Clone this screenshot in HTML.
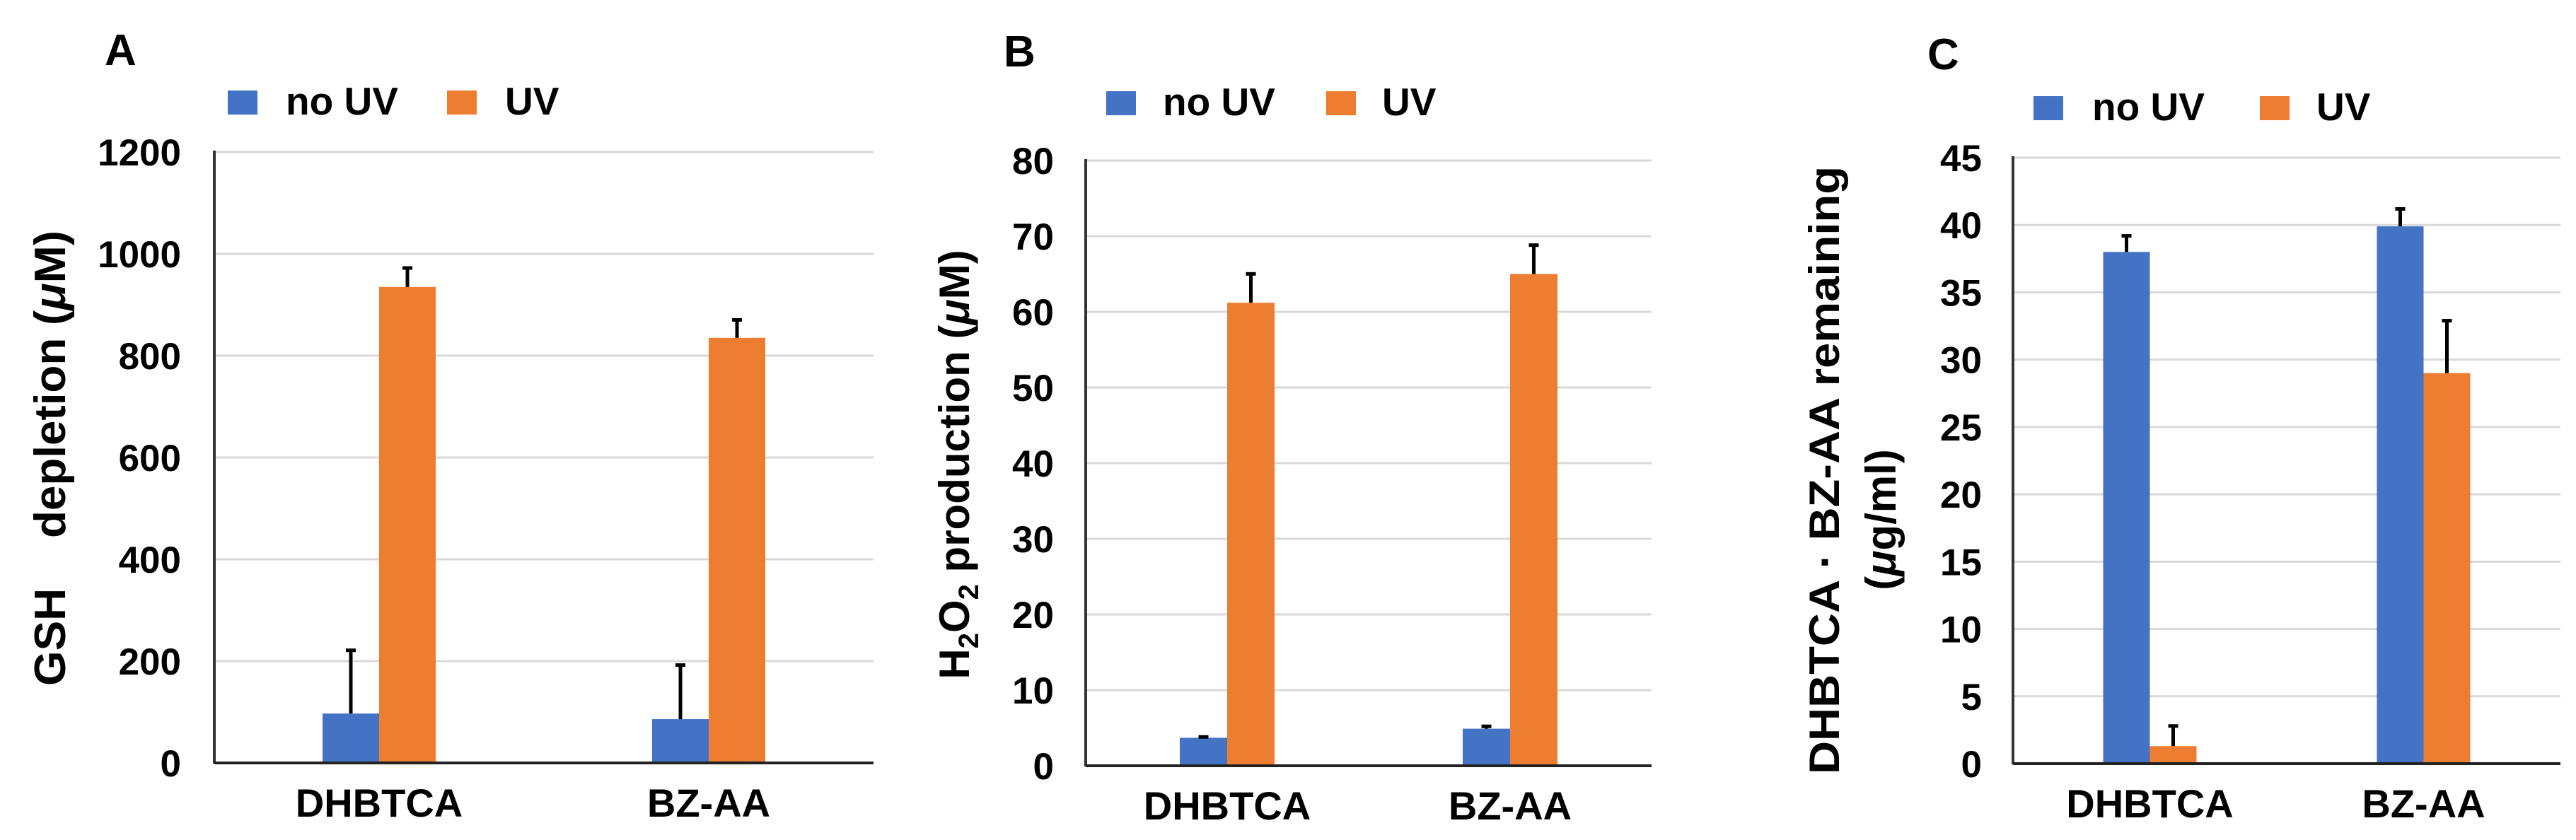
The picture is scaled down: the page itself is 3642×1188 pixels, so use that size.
<!DOCTYPE html>
<html><head><meta charset="utf-8"><style>
html,body{margin:0;padding:0;background:#fff}
svg{display:block}
text{font-family:"Liberation Sans",Arial,sans-serif;font-weight:bold;fill:#000}
</style></head><body>
<svg id="fig" width="3642" height="1188" viewBox="0 0 3642 1188"></svg>
<script>
const categories = ["DHBTCA", "BZ-AA"];
const seriesNames = ["no UV", "UV"];
const aNoUV = [97, 86];
const aNoUVErr = [127, 109];
const aUV = [935, 835];
const aUVErr = [40, 38];
const aTicks = [0, 200, 400, 600, 800, 1000, 1200];
const bNoUV = [3.7, 4.9];
const bNoUVErr = [0.3, 0.5];
const bUV = [61.2, 65];
const bUVErr = [4, 4];
const bTicks = [0, 10, 20, 30, 40, 50, 60, 70, 80];
const cNoUV = [38, 39.9];
const cNoUVErr = [1.3, 1.4];
const cUV = [1.3, 29];
const cUVErr = [1.6, 4];
const cTicks = [0, 5, 10, 15, 20, 25, 30, 35, 40, 45];

const NS = "http://www.w3.org/2000/svg";
const svg = document.getElementById("fig");
function mk(tag, attrs, parent, txt) {
  const e = document.createElementNS(NS, tag);
  for (const k in attrs) e.setAttribute(k, attrs[k]);
  if (txt !== undefined) e.textContent = txt;
  (parent || svg).appendChild(e);
  return e;
}
const BLUE = "#4472c4", ORANGE = "#ed7d31";

function panel(cfg) {
  const g = mk("g", {});
  
  
  const max = cfg.ticks[cfg.ticks.length - 1];
  const y = v => cfg.y0 - (v / max) * (cfg.y0 - cfg.yTop);
  const catW = (cfg.x1 - cfg.x0) / categories.length;
  const cx = i => cfg.x0 + catW * (i + 0.5);
  cfg.ticks.forEach(t => {
    if (t !== 0) {
      const gl = mk("line", {x1: cfg.x0, x2: cfg.x1, y1: y(t), y2: y(t), stroke: "#d9d9d9", "stroke-width": 3}, g);
      
      
    }
    const tl = mk("text", {x: cfg.tickX, y: y(t) + 19, "text-anchor": "end", "font-size": 53}, g, String(t));
    
    
  });
  const series = [[cfg.noUV, cfg.noUVErr, BLUE, "no-uv"], [cfg.UV, cfg.UVErr, ORANGE, "uv"]];
  categories.forEach((c, i) => {
    series.forEach((s, k) => {
      const bx = cx(i) + (k === 0 ? -cfg.bw : 0);
      const v = s[0][i];
      const r = mk("rect", {x: bx, y: y(v), width: cfg.bw, height: cfg.y0 - y(v), fill: s[2]}, g);
      
      
      const ex = bx + cfg.bw / 2;
      const et = y(v + s[1][i]);
      const el = mk("line", {x1: ex, x2: ex, y1: y(v), y2: et, stroke: "#000", "stroke-width": 5}, g);
      
      
      const ec = mk("line", {x1: ex - 7, x2: ex + 7, y1: et + 2, y2: et + 2, stroke: "#000", "stroke-width": 5}, g);
      
      
    });
    const xl = mk("text", {x: cx(i), y: cfg.y0 + 76, "text-anchor": "middle", "font-size": 56}, g, c);
    
    
  });
  const ya = mk("line", {x1: cfg.x0, x2: cfg.x0, y1: cfg.yTop - 2, y2: cfg.y0 + 1, stroke: "#333", "stroke-width": 4}, g);
  
  
  const xa = mk("line", {x1: cfg.x0, x2: cfg.x1, y1: cfg.y0, y2: cfg.y0, stroke: "#222", "stroke-width": 4}, g);
  
  
  const pl = mk("text", {x: cfg.letterX, y: cfg.letterY, "font-size": 62}, g, cfg.letter);
  
  
  const L = cfg.leg;
  const l1 = mk("rect", {x: L[0], y: L[4], width: 42, height: 34, fill: BLUE}, g);
  
  
  const t1 = mk("text", {x: L[1], y: L[4] + 34, "font-size": 55}, g, seriesNames[0]);
  
  
  const l2 = mk("rect", {x: L[2], y: L[4], width: 42, height: 34, fill: ORANGE}, g);
  
  
  const t2 = mk("text", {x: L[3], y: L[4] + 34, "font-size": 55}, g, seriesNames[1]);
  
  
  return g;
}

const gA = panel({letter: "A", letterX: 148, letterY: 92, x0: 303, x1: 1235, yTop: 215, y0: 1079, tickX: 256, bw: 80,
  noUV: aNoUV, noUVErr: aNoUVErr, UV: aUV, UVErr: aUVErr, ticks: aTicks, leg: [322, 404, 632, 714, 128]});
const gB = panel({letter: "B", letterX: 1419, letterY: 94, x0: 1535, x1: 2335, yTop: 227, y0: 1083, tickX: 1490, bw: 67,
  noUV: bNoUV, noUVErr: bNoUVErr, UV: bUV, UVErr: bUVErr, ticks: bTicks, leg: [1564, 1644, 1875, 1954, 129]});
const gC = panel({letter: "C", letterX: 2725, letterY: 98, x0: 2846, x1: 3620, yTop: 223, y0: 1080, tickX: 2802, bw: 66,
  noUV: cNoUV, noUVErr: cNoUVErr, UV: cUV, UVErr: cUVErr, ticks: cTicks, leg: [2875, 2958, 3195, 3275, 136]});

const ta = mk("text", {transform: "translate(92,648) rotate(-90)", "text-anchor": "middle", "font-size": 62, textLength: 644, lengthAdjust: "spacingAndGlyphs"}, gA);


ta.innerHTML = 'GSH&#160;&#160;&#160;&#160;depletion (<tspan font-style="italic">μ</tspan>M)';

const tb = mk("text", {transform: "translate(1370,657) rotate(-90)", "text-anchor": "middle", "font-size": 60}, gB);


tb.innerHTML = 'H<tspan font-size="40" dy="13">2</tspan><tspan dy="-13">O</tspan><tspan font-size="40" dy="13">2</tspan><tspan dy="-13"> production (</tspan><tspan font-style="italic">μ</tspan>M)';

const tc1 = mk("text", {transform: "translate(2600,665) rotate(-90)", "text-anchor": "middle", "font-size": 60, textLength: 860, lengthAdjust: "spacingAndGlyphs"}, gC, "DHBTCA · BZ-AA remaining");


const tc2 = mk("text", {transform: "translate(2680,735) rotate(-90)", "text-anchor": "middle", "font-size": 60}, gC);


tc2.innerHTML = '(<tspan font-style="italic">μ</tspan>g/ml)';
</script>
</body></html>
